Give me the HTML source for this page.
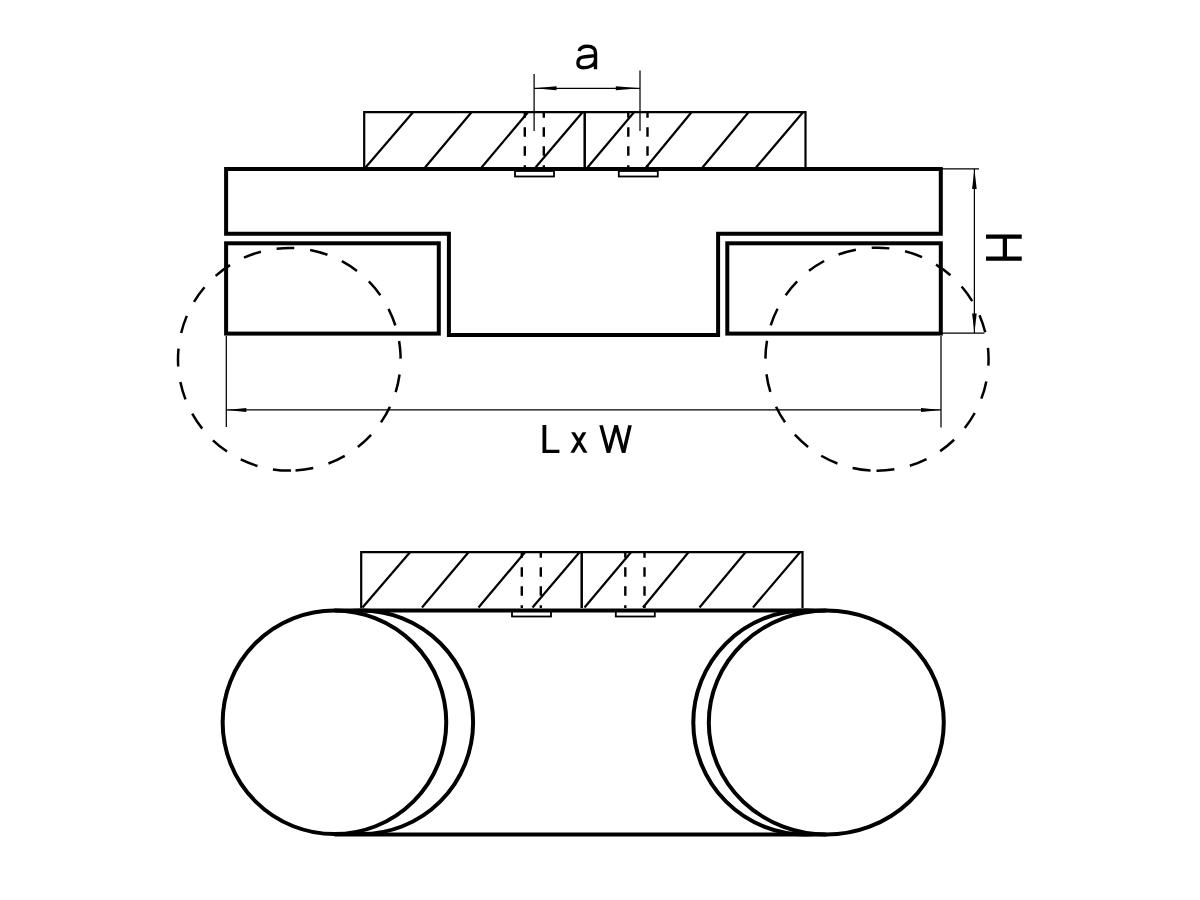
<!DOCTYPE html>
<html><head><meta charset="utf-8"><style>
html,body{margin:0;padding:0;background:#fff;}
svg{display:block;}
text{font-family:"Liberation Sans",sans-serif;}
</style></head><body>
<svg width="1200" height="900" viewBox="0 0 1200 900">
<defs>
<g id="blk">
  <!-- hatched block -->
  <path d="M364.2,168 V112.2 H805.5 V168" fill="none" stroke="#000" stroke-width="2.2"/>
  <line x1="584.7" y1="112.2" x2="584.7" y2="168" stroke="#000" stroke-width="2.5"/>
  <g stroke="#000" stroke-width="2.2" fill="none">
    <line x1="365.5" y1="167.5" x2="413" y2="112.2"/>
    <line x1="425" y1="167.5" x2="471.5" y2="112.2"/>
    <line x1="481.5" y1="167.5" x2="528" y2="112.2"/>
    <line x1="535.5" y1="167.5" x2="582.5" y2="112.2"/>
    <line x1="587.5" y1="167.5" x2="634" y2="112.2"/>
    <line x1="646" y1="167.5" x2="691.5" y2="112.2"/>
    <line x1="702.5" y1="167.5" x2="748.5" y2="112.2"/>
    <line x1="756" y1="167.5" x2="803" y2="112.2"/>
  </g>
  <g stroke="#000" stroke-width="2.4" stroke-dasharray="9.5 9.5" stroke-dashoffset="4.0">
    <line x1="524.8" y1="112.2" x2="524.8" y2="168"/>
    <line x1="543.8" y1="112.2" x2="543.8" y2="168"/>
    <line x1="628.3" y1="112.2" x2="628.3" y2="168"/>
    <line x1="647.5" y1="112.2" x2="647.5" y2="168"/>
  </g>
  <rect x="515" y="171" width="39" height="5.5" fill="none" stroke="#000" stroke-width="1.8"/>
  <rect x="618.8" y="171" width="39" height="5.5" fill="none" stroke="#000" stroke-width="1.8"/>
</g>
</defs>

<!-- ===== TOP VIEW ===== -->
<use href="#blk"/>

<!-- dimension a -->
<g stroke="#000" stroke-width="1.25">
  <line x1="534.1" y1="74" x2="534.1" y2="131"/>
  <line x1="640" y1="70.5" x2="640" y2="131"/>
  <line x1="534.1" y1="88.25" x2="640" y2="88.25"/>
</g>
<path d="M534.1,88.25 L556.5,86.2 L556.5,90.3 Z" fill="#000"/>
<path d="M640,88.25 L615.8,86.2 L615.8,90.3 Z" fill="#000"/>
<path d="M579,51 C580.3,47.6 583.2,46.2 587.2,46.2 C592.5,46.2 595.5,48.6 595.5,53 L595.5,69.3 M595.5,55.6 C591,56.3 586,56.3 582.5,57.2 C579.4,58 577.9,60.2 577.9,63 C577.9,66 580.2,67.7 583.6,67.7 C589.5,67.7 595.5,64.8 595.5,59.5" fill="none" stroke="#000" stroke-width="3.4"/>

<!-- main body -->
<path d="M226.1,169 H940.8 V233.8 H718.1 V335 H448.9 V233.8 H226.1 Z" fill="none" stroke="#000" stroke-width="4" stroke-linejoin="miter"/>
<rect x="226.1" y="243.3" width="212.7" height="90.3" fill="none" stroke="#000" stroke-width="4"/>
<rect x="727.3" y="243.3" width="213.5" height="90.3" fill="none" stroke="#000" stroke-width="4"/>

<!-- dashed circles -->
<path d="M295.50,470.43 A111.30,111.30 0 1 0 283.10,248.17 A111.30,111.30 0 1 0 295.50,470.43" fill="none" stroke="#000" stroke-width="2.5" stroke-dasharray="18 15.8"/>
<path d="M876.50,470.70 A111.50,111.50 0 1 0 877.50,247.70 A111.50,111.50 0 1 0 876.50,470.70" fill="none" stroke="#000" stroke-width="2.5" stroke-dasharray="18 15.8"/>

<!-- L x W dimension -->
<g stroke="#000" stroke-width="1.25">
  <line x1="226.3" y1="336" x2="226.3" y2="427"/>
  <line x1="941" y1="336" x2="941" y2="427.5"/>
  <line x1="226.3" y1="409.9" x2="941" y2="409.9"/>
</g>
<path d="M226.3,409.9 L246.3,407.9 L246.3,411.9 Z" fill="#000"/>
<path d="M941,409.9 L921,407.9 L921,411.9 Z" fill="#000"/>
<g fill="#000">
  <path d="M542.5,425 H546.3 V449.7 H559.4 V452.9 H542.5 Z"/>
  <polygon points="571.1,432.2 575.0,432.2 587.5,452.8 583.6,452.8"/>
  <polygon points="582.5,432.2 586.4,432.2 574.3,452.8 570.4,452.8"/>
  <polygon points="599.3,425.3 602.9,425.3 610.3,452.8 606.7,452.8"/>
  <polygon points="614.3,425.3 617.9,425.3 610.3,452.8 606.7,452.8"/>
  <polygon points="614.3,425.3 617.9,425.3 625.4,452.8 621.8,452.8"/>
  <polygon points="628.2,425.3 631.8,425.3 625.4,452.8 621.8,452.8"/>
</g>



<!-- H dimension -->
<g stroke="#000" stroke-width="1.25">
  <line x1="942" y1="168.9" x2="979" y2="168.9"/>
  <line x1="942" y1="333.2" x2="984.4" y2="333.2"/>
  <line x1="974.4" y1="168.9" x2="974.4" y2="333.2"/>
</g>
<path d="M974.4,168.9 L972.1,189 L976.7,189 Z" fill="#000"/>
<path d="M974.4,333.2 L972.1,313.5 L976.7,313.5 Z" fill="#000"/>
<g fill="#000"><rect x="986" y="234.5" width="35.75" height="4.25"/><rect x="986" y="256.5" width="35.75" height="4.25"/><rect x="1002.75" y="238" width="4.25" height="19"/></g>

<!-- ===== BOTTOM VIEW ===== -->
<!-- outer arcs -->
<circle cx="361.3" cy="722.3" r="111.8" fill="none" stroke="#000" stroke-width="4"/>
<circle cx="805.3" cy="722.5" r="112" fill="none" stroke="#000" stroke-width="4"/>
<circle cx="334.45" cy="722.3" r="111.8" fill="#fff" stroke="#000" stroke-width="4"/>
<ellipse cx="826.3" cy="722.5" rx="117.5" ry="112" fill="#fff" stroke="#000" stroke-width="4"/>
<line x1="334.45" y1="610.5" x2="826.3" y2="610.5" stroke="#000" stroke-width="4"/>
<line x1="334.45" y1="834.5" x2="826.3" y2="834.5" stroke="#000" stroke-width="4"/>
<use href="#blk" transform="translate(-3,440)"/>
</svg>
</body></html>
